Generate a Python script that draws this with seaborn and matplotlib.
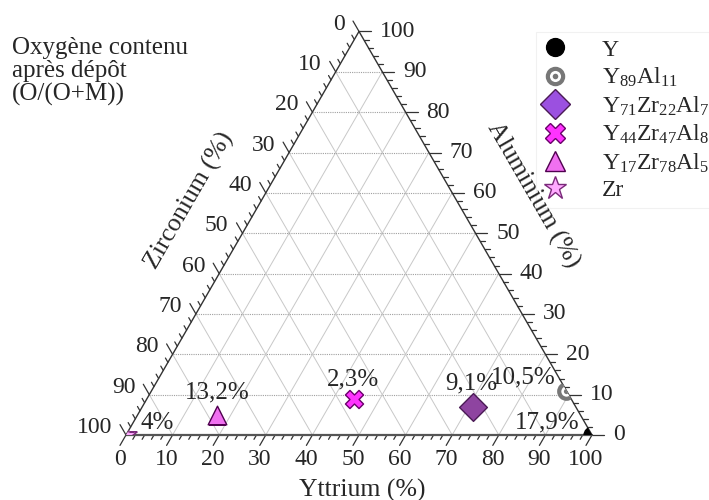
import numpy as np
import pandas as pd
import matplotlib
matplotlib.use('Agg')
import matplotlib.pyplot as plt
import seaborn as sns
from matplotlib.patches import Polygon
from matplotlib.lines import Line2D
from matplotlib.legend_handler import HandlerTuple

# composition data (in %)
names = ['Y', 'Y89Al11', 'Y71Zr22Al7', 'Y44Zr47Al8', 'Y17Zr78Al5', 'Zr']
legend_labels = ['Y', 'Y$_{89}$Al$_{11}$', 'Y$_{71}$Zr$_{22}$Al$_{7}$',
                 'Y$_{44}$Zr$_{47}$Al$_{8}$', 'Y$_{17}$Zr$_{78}$Al$_{5}$', 'Zr']
yttrium = [100, 89, 71, 44.5, 17, 0]
aluminium = [0, 11, 7, 9, 5, 0]
oxygen_labels = ['17,9%', '10,5%', '9,1%', '2,3%', '13,2%', '4%']

# styles
markers = ['o', 'o', 'D', 'X', '^', '*']
face_plot = ['black', 'white', '#8e44a0', '#ff33ff', '#f070f0', '#ffaaff']
face_leg = ['black', 'white', '#9b50e0', '#ff33ff', '#f070f0', '#ffaaff']
edges = ['black', '#777777', '#4a1a55', '#6a006a', '#500050', '#7a2a7a']
sizes = [150, 110, 200, 170, 180, 260]
label_offsets = [(-45, 13), (-43, 13), (-2, 23), (-1, 19), (0, 22), (31, 12)]

sns.set_style('white')
plt.rcParams['font.family'] = ['Liberation Serif', 'DejaVu Serif']
plt.rcParams['mathtext.default'] = 'regular'

s3 = np.sqrt(3) / 2
PX = 1 / 466.0  # one pixel in triangle units


def tern(y, al):
    y = np.asarray(y, dtype=float)
    al = np.asarray(al, dtype=float)
    return (y + al / 2) / 100, al / 100 * s3


df = pd.DataFrame({'name': names, 'Y': yttrium, 'Al': aluminium})
df['x'], df['y'] = tern(df['Y'], df['Al'])

fig = plt.figure(figsize=(7.09, 5.0), dpi=100)
ax = fig.add_axes([0, 0, 1, 1])
ax.set_xlim(-126 / 466, (709 - 126) / 466)
ax.set_ylim(-65 / 466, 435 / 466)
ax.axis('off')

# grid
for v in range(10, 100, 10):
    gx, gy = tern([0, 100 - v], [v, v])
    ax.plot(gx, gy, color='#a0a0a0', lw=0.8, ls=(0, (1, 1)), zorder=1)
    gx, gy = tern([v, v], [0, 100 - v])
    ax.plot(gx, gy, color='#c8c8c8', lw=0.7, zorder=1)
    gx, gy = tern([100 - v, 0], [0, 100 - v])
    ax.plot(gx, gy, color='#c8c8c8', lw=0.7, zorder=1)

# triangle edges
ax.plot([0, 1], [0, 0], color='#555555', lw=1.6, zorder=3)
ax.plot([0, 0.5], [0, s3], color='#333333', lw=1.0, zorder=3)
ax.plot([1, 0.5], [0, s3], color='#333333', lw=1.0, zorder=3)

# ticks and tick labels
for v in range(0, 101, 2):
    major = v % 10 == 0
    L = (12 if major else 5) * PX
    f = v / 100
    # bottom (Yttrium)
    bx, by = f, 0
    ax.plot([bx, bx - 0.5 * L], [by, by - s3 * L], color='#333333', lw=0.9)
    # right (Aluminium)
    rx, ry = 1 - f / 2, f * s3
    ax.plot([rx, rx + L], [ry, ry], color='#333333', lw=0.9)
    # left (Zirconium)
    lx, ly = (1 - f) / 2, (1 - f) * s3
    ax.plot([lx, lx - 0.5 * L], [ly, ly + s3 * L], color='#333333', lw=0.9)
    if major:
        ax.text(bx - 0.5 * L, by - s3 * L - 4 * PX, str(v), ha='center', va='top', fontsize=17)
        ax.text(rx + L + 9 * PX, ry, str(v), ha='left', va='center', fontsize=17)
        ax.text(lx - 0.5 * L - 8 * PX, ly + s3 * L - 3 * PX, str(v), ha='right', va='center', fontsize=17)

# axis titles
ax.text(0.506, -0.118, 'Yttrium (%)', ha='center', va='center', fontsize=18.5)
ax.text(0.137, 0.504, 'Zirconium (%)', ha='center', va='center', rotation=60, fontsize=18.5)
ax.text(0.873, 0.515, 'Aluminium (%)', ha='center', va='center', rotation=-60,
        fontsize=18.5, zorder=10)

# points, clipped to the triangle
tri = Polygon([[0, 0], [1, 0], [0.5, s3]], closed=True, transform=ax.transData)
for i in range(len(names)):
    lw = 3 if names[i] == 'Y89Al11' else 1
    sns.scatterplot(data=df.iloc[[i]], x='x', y='y', marker=markers[i], s=sizes[i],
                    color=face_plot[i], edgecolor=edges[i], linewidth=lw,
                    legend=False, ax=ax, zorder=5)
    ax.collections[-1].set_clip_path(tri)
    if names[i] == 'Y89Al11':
        sns.scatterplot(data=df.iloc[[i]], x='x', y='y', marker='o', s=14,
                        color='#777777', edgecolor='#777777', linewidth=0,
                        legend=False, ax=ax, zorder=6)
        ax.collections[-1].set_clip_path(tri)
    ax.annotate(oxygen_labels[i], (df['x'][i], df['y'][i]), xytext=label_offsets[i],
                textcoords='offset pixels', ha='center', va='center', fontsize=18, zorder=7)

# legend
handles = []
for i in range(len(names)):
    h = Line2D([], [], ls='none', marker=markers[i], markersize=np.sqrt(sizes[i]) * 1.05,
               markerfacecolor=face_leg[i], markeredgecolor=edges[i],
               markeredgewidth=3 if names[i] == 'Y89Al11' else 1)
    if names[i] == 'Y89Al11':
        dot = Line2D([], [], ls='none', marker='o', markersize=4,
                     markerfacecolor='#777777', markeredgewidth=0)
        h = (h, dot)
    handles.append(h)
leg = ax.legend(handles, legend_labels, loc='upper left',
                bbox_to_anchor=(536 / 709, 1 - 32 / 500), bbox_transform=fig.transFigure,
                borderaxespad=0, borderpad=0.3, handlelength=1.0, handletextpad=1.5,
                labelspacing=0.22, fontsize=17, frameon=True, fancybox=False,
                handler_map={tuple: HandlerTuple(ndivide=1)})
leg.get_frame().set_edgecolor('#eeeeee')
leg.get_frame().set_linewidth(0.8)

fig.text(12 / 709, 1 - 37 / 500, 'Oxygène contenu\naprès dépôt\n(O/(O+M))',
         ha='left', va='top', fontsize=18, linespacing=1.05)

fig.savefig('out.png', dpi=100)
